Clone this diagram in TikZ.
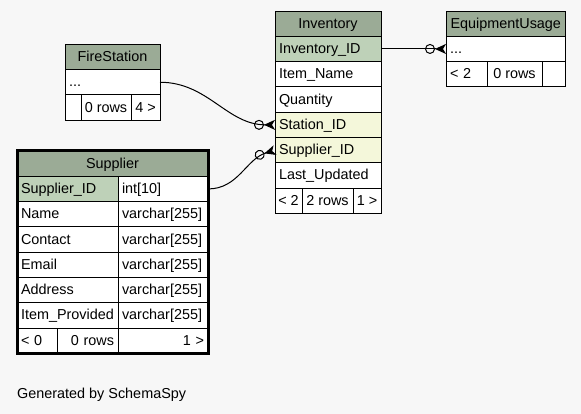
\documentclass[tikz,border=0pt]{standalone}
\usepackage{fontspec}
\setmainfont{Liberation Sans}
\usetikzlibrary{arrows.meta, calc, positioning}
\definecolor{hdr}{HTML}{9BAB96}
\definecolor{pkey}{HTML}{BED1B8}
\definecolor{fkey}{HTML}{F4F7DA}
\definecolor{bgcol}{HTML}{F7F7F7}
\newcommand{\tabfont}{\fontsize{14.4}{16}\selectfont}
\tikzset{cell/.style = {draw, fill=white, anchor=north west, line width=0.9pt, outer sep=0pt, inner xsep=4pt, inner ysep=0pt, minimum height=25.3pt, text height=11.5pt, text depth=2.5pt, font=\tabfont, align=left}}
\tikzset{head/.style = {cell, fill=hdr, align=center}}
\tikzset{foot/.style = {cell, inner xsep=1pt}}
\tikzset{rel/.style = {line width=1pt, -{Circle[open, length=10pt, width=10pt] Stealth[reversed, length=11pt, width=10pt, inset=3pt]}}}

\begin{document}
\begin{tikzpicture}[x=1pt, y=1pt]
\useasboundingbox[fill=bgcol] (0,0) rectangle (581,-414);
\node [head, text width=98pt] (inv-0) at (275,-11) {Inventory};
\foreach \txt/\col [count=\i] in {Inventory\_ID/pkey, Item\_Name/white, Quantity/white, Station\_ID/fkey, Supplier\_ID/fkey, Last\_Updated/white}
  {\pgfmathtruncatemacro\j{\i-1}
   \node [cell, fill=\col, text width=98pt] (inv-\i) at (inv-\j.south west) {\txt};}
\node [foot, minimum width=27pt] (inv-f1) at (inv-6.south west) {< 2};
\node [foot, minimum width=51pt] (inv-f2) at (inv-f1.north east) {2 rows};
\node [foot, minimum width=28pt] (inv-f3) at (inv-f2.north east) {1 >};

\node [head, text width=111.5pt] (eq-0) at (446,-11) {EquipmentUsage};
\node [cell, text width=111.5pt] (eq-1) at (eq-0.south west) {...};
\node [cell, text width=33pt] (eq-f1) at (eq-1.south west) {< 2};
\node [foot, minimum width=55pt] (eq-f2) at (eq-f1.north east) {0 rows};
\node [foot, minimum width=23.5pt] (eq-f3) at (eq-f2.north east) {};

\node [head, text width=87pt] (fs-0) at (65,-44.3) {FireStation};
\node [cell, text width=87pt] (fs-1) at (fs-0.south west) {...};
\node [foot, minimum width=16pt] (fs-f1) at (fs-1.south west) {};
\node [foot, minimum width=50pt] (fs-f2) at (fs-f1.north east) {0 rows};
\node [foot, minimum width=29pt] (fs-f3) at (fs-f2.north east) {4 >};

\node [head, text width=183pt] (sup-0) at (17,-151) {Supplier};
\foreach \txt/\typ/\col [count=\i] in {Supplier\_ID/int[10]/pkey, Name/varchar[255]/white, Contact/varchar[255]/white, Email/varchar[255]/white, Address/varchar[255]/white, Item\_Provided/varchar[255]/white}
  {\pgfmathtruncatemacro\j{\i-1}
   \node [cell, fill=\col, text width=93pt] (sup-\i) at (sup-\j.south west) {\txt};
   \node [cell, text width=82pt] (sup-t\i) at (sup-\i.north east) {\typ};}
\node [cell, text width=32.5pt] (sup-f1) at (sup-6.south west) {< 0};
\node [cell, text width=52.5pt, align=right] (sup-f2) at (sup-f1.north east) {0 rows};
\node [cell, text width=82pt, align=right] (sup-f3) at (sup-f2.north east) {1 >};
\draw [line width=3pt] (sup-0.north west) rectangle (sup-f3.south east);

\draw [rel] (inv-1.east) -- (eq-1.west);
\draw [rel] (fs-1.east) to [out=0, in=180] (inv-4.west);
\draw [rel] (sup-t1.east) to [out=0, in=197] (inv-5.west);

\node [anchor=base west, font=\tabfont, inner sep=0pt] (gen) at (17,-398) {Generated by SchemaSpy};
\end{tikzpicture}
\end{document}
